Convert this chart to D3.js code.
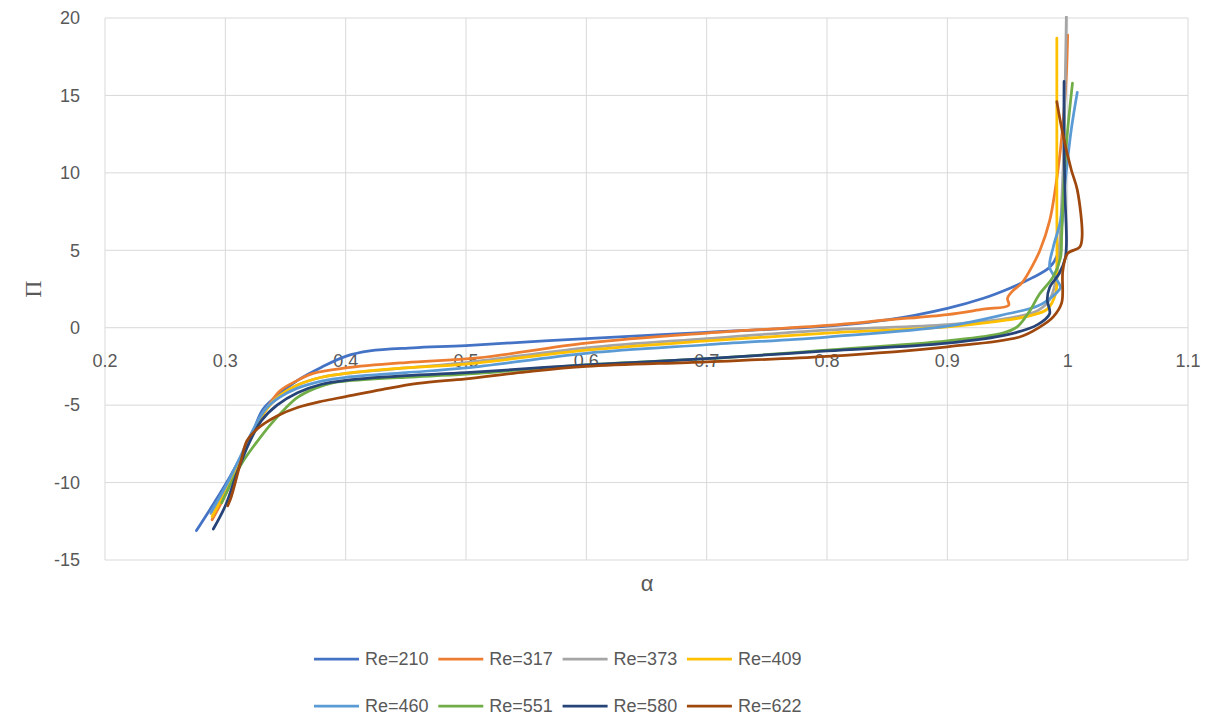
<!DOCTYPE html>
<html>
<head>
<meta charset="utf-8">
<script src="https://cdn.jsdelivr.net/npm/d3@7"></script>
<style>
  body { margin: 0; background: #fff; }
  svg { font-family: "Liberation Sans", "Open Sans", sans-serif; }
</style>
</head>
<body>
<svg width="1214" height="720"></svg>
<script>
// ---- Data (α, Π)
const seriesNames = ["Re=210", "Re=317", "Re=373", "Re=409", "Re=460", "Re=551", "Re=580", "Re=622"];
const seriesColors = ["#4472C4", "#ED7D31", "#A5A5A5", "#FFC000", "#5B9BD5", "#70AD47", "#264478", "#9E480E"];

const re210 = [[0.276,-13.1],[0.29,-11.4],[0.304,-9.6],[0.321,-7.1],[0.331,-5.3],[0.343,-4.4],[0.36,-3.4],[0.38,-2.55],[0.40,-1.85],[0.42,-1.5],[0.456,-1.3],[0.50,-1.15],[0.60,-0.7],[0.70,-0.3],[0.80,0.1],[0.85,0.5],[0.90,1.25],[0.93,1.9],[0.952,2.55],[0.97,3.2],[0.985,3.9],[0.992,4.8],[0.995,6.5],[0.997,9],[0.998,12]];
const re317 = [[0.289,-12.4],[0.30,-10.8],[0.31,-9.0],[0.322,-7.0],[0.333,-5.4],[0.345,-4.1],[0.36,-3.4],[0.373,-2.95],[0.40,-2.6],[0.45,-2.25],[0.51,-1.95],[0.60,-1.0],[0.70,-0.35],[0.80,0.15],[0.85,0.5],[0.90,0.85],[0.93,1.2],[0.951,1.45],[0.95,1.9],[0.954,2.35],[0.962,2.9],[0.97,3.9],[0.977,5.0],[0.985,6.9],[0.99,9.1],[0.994,11.5],[0.997,14],[0.999,16.5],[1.0,18.9]];
const re373 = [[0.288,-12.0],[0.30,-10.4],[0.312,-8.5],[0.323,-6.7],[0.333,-5.3],[0.345,-4.4],[0.36,-3.7],[0.38,-3.2],[0.40,-2.95],[0.45,-2.6],[0.50,-2.25],[0.60,-1.3],[0.70,-0.7],[0.80,-0.15],[0.90,0.2],[0.95,0.6],[0.975,1.1],[0.985,1.8],[0.99,3],[0.993,5],[0.995,8],[0.997,12],[0.998,16],[0.999,20.5]];
const re409 = [[0.289,-12.2],[0.30,-10.6],[0.312,-8.6],[0.323,-6.8],[0.333,-5.4],[0.345,-4.4],[0.36,-3.7],[0.38,-3.2],[0.40,-2.95],[0.45,-2.6],[0.50,-2.35],[0.60,-1.45],[0.70,-0.85],[0.80,-0.35],[0.90,0.05],[0.95,0.5],[0.97,0.8],[0.983,1.2],[0.99,2.2],[0.991,4],[0.991,8],[0.991,12],[0.991,16],[0.991,18.7]];
const re460 = [[0.288,-11.9],[0.30,-10.3],[0.312,-8.4],[0.323,-6.6],[0.333,-5.3],[0.345,-4.5],[0.36,-3.9],[0.38,-3.45],[0.40,-3.2],[0.45,-2.9],[0.50,-2.6],[0.60,-1.65],[0.70,-1.1],[0.80,-0.6],[0.90,0.1],[0.95,0.9],[0.975,1.4],[0.99,2.2],[0.994,2.6],[0.99,3.2],[0.985,3.9],[0.988,5.2],[0.994,6.9],[0.999,10.2],[1.003,12.8],[1.008,15.2]];
const re551 = [[0.297,-11.3],[0.305,-10.0],[0.315,-8.6],[0.325,-7.5],[0.337,-6.3],[0.35,-5.2],[0.36,-4.5],[0.375,-3.9],[0.39,-3.55],[0.40,-3.45],[0.45,-3.2],[0.50,-3.0],[0.60,-2.4],[0.70,-2.0],[0.80,-1.45],[0.90,-0.85],[0.946,-0.35],[0.958,0.05],[0.969,1.15],[0.976,2.1],[0.988,3.3],[0.994,4.5],[0.995,5.9],[0.996,8],[0.999,11.9],[1.004,15.8]];
const re580 = [[0.290,-13.0],[0.30,-11.5],[0.31,-9.3],[0.32,-7.4],[0.33,-6.0],[0.343,-5.0],[0.36,-4.2],[0.38,-3.65],[0.40,-3.4],[0.45,-3.1],[0.50,-2.9],[0.60,-2.4],[0.70,-2.0],[0.80,-1.5],[0.90,-1.0],[0.95,-0.45],[0.975,0.2],[0.985,0.9],[0.983,1.8],[0.985,2.6],[0.993,3.5],[0.998,4.5],[0.999,5.5],[0.998,8.2],[0.997,12],[0.997,15.9]];
const re622 = [[0.302,-11.5],[0.305,-10.9],[0.313,-8.6],[0.318,-7.3],[0.327,-6.5],[0.343,-5.7],[0.36,-5.15],[0.38,-4.75],[0.40,-4.45],[0.43,-4.0],[0.46,-3.6],[0.50,-3.3],[0.55,-2.85],[0.60,-2.5],[0.70,-2.2],[0.80,-1.85],[0.90,-1.23],[0.96,-0.6],[0.977,0.05],[0.988,0.7],[0.995,1.6],[0.996,3.7],[1.0,4.8],[1.01,5.2],[1.012,5.9],[1.008,8.9],[1.003,10.2],[0.996,12.5],[0.991,14.6]];

const allSeries = [re210, re317, re373, re409, re460, re551, re580, re622];

const xTicks = [0.2, 0.3, 0.4, 0.5, 0.6, 0.7, 0.8, 0.9, 1, 1.1];
const yTicks = [-15, -10, -5, 0, 5, 10, 15, 20];

// ---- Layout
const svg = d3.select('svg');
const plot = { left: 105, right: 1188, top: 18, bottom: 560 };
const textColor = '#595959';
const gridColor = '#d9d9d9';

const x = d3.scaleLinear().domain([0.2, 1.1]).range([plot.left, plot.right]);
const y = d3.scaleLinear().domain([-15, 20]).range([plot.bottom, plot.top]);

// ---- Grid
svg.append('g').selectAll('line').data(yTicks).join('line')
    .attr('x1', plot.left).attr('x2', plot.right)
    .attr('y1', d => y(d)).attr('y2', d => y(d))
    .attr('stroke', gridColor).attr('stroke-width', 1);

svg.append('g').selectAll('line').data(xTicks).join('line')
    .attr('x1', d => x(d)).attr('x2', d => x(d))
    .attr('y1', plot.top).attr('y2', plot.bottom)
    .attr('stroke', gridColor).attr('stroke-width', 1);

// ---- Tick labels
svg.append('g').selectAll('text').data(yTicks).join('text')
    .attr('x', 80).attr('y', d => y(d))
    .attr('dy', '0.35em')
    .attr('text-anchor', 'end')
    .attr('fill', textColor).style('font-size', '18px')
    .text(d => d);

svg.append('g').selectAll('text').data(xTicks).join('text')
    .attr('x', d => x(d)).attr('y', y(0) + 33)
    .attr('dy', '0.35em')
    .attr('text-anchor', 'middle')
    .attr('fill', textColor).style('font-size', '18px')
    .text(d => d);

// ---- Axis titles
svg.append('text')
    .attr('transform', `translate(33, ${y(2.5)}) rotate(-90)`)
    .attr('text-anchor', 'middle').attr('dy', '0.35em')
    .attr('fill', textColor)
    .style('font-family', '"Liberation Serif", "DejaVu Serif", serif')
    .style('font-size', '24px')
    .text('Π');

svg.append('text')
    .attr('x', 647).attr('y', 583).attr('dy', '0.35em')
    .attr('text-anchor', 'middle')
    .attr('fill', textColor).style('font-size', '22px')
    .text('α');

// ---- Curves
svg.append('clipPath').attr('id', 'clip')
    .append('rect')
    .attr('x', plot.left).attr('y', plot.top - 2)
    .attr('width', plot.right - plot.left).attr('height', plot.bottom - plot.top + 2);

const line = d3.line()
    .x(d => x(d[0]))
    .y(d => y(d[1]))
    .curve(d3.curveCatmullRom.alpha(0.5));

svg.append('g').attr('clip-path', 'url(#clip)')
    .selectAll('path').data(allSeries).join('path')
    .attr('d', line)
    .attr('fill', 'none')
    .attr('stroke', (d, i) => seriesColors[i])
    .attr('stroke-width', 2.75)
    .attr('stroke-linejoin', 'round')
    .attr('stroke-linecap', 'round');

// ---- Legend (2 rows x 4)
const legend = svg.append('g').selectAll('g').data(seriesNames).join('g')
    .attr('transform', (d, i) => `translate(${314 + (i % 4) * 124.3}, ${i < 4 ? 659 : 706})`);

legend.append('line')
    .attr('x1', 0).attr('x2', 45)
    .attr('stroke', (d, i) => seriesColors[i])
    .attr('stroke-width', 2.75);

legend.append('text')
    .attr('x', 51).attr('dy', '0.35em')
    .attr('fill', textColor).style('font-size', '18px')
    .text(d => d);
</script>
</body>
</html>
